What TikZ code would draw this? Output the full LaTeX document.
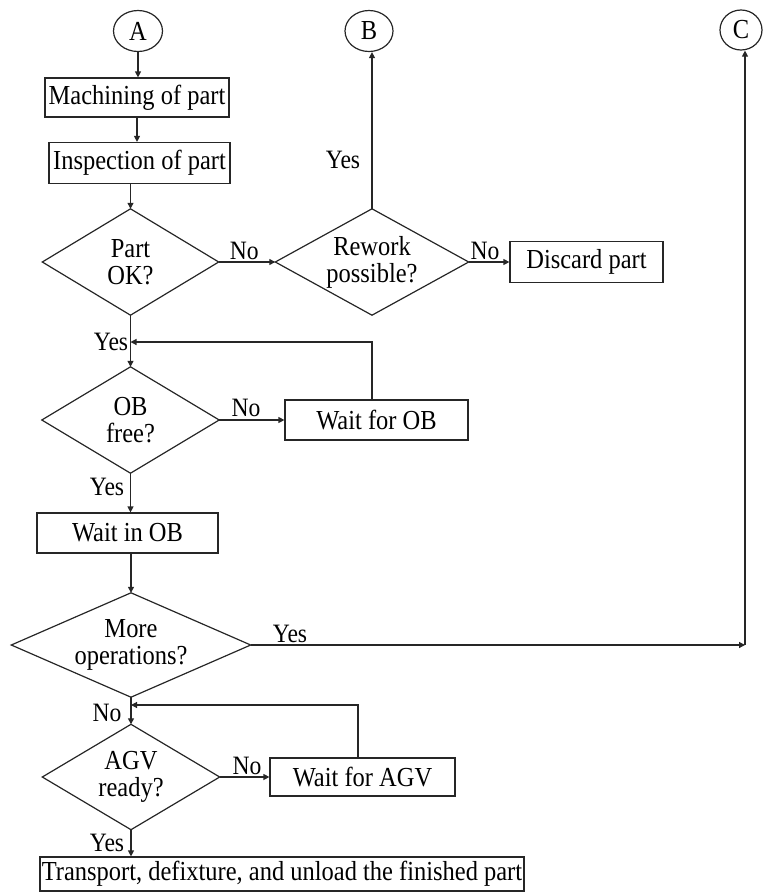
\documentclass[tikz,border=0pt]{standalone}
\usepackage{fontspec}
\setmainfont{Liberation Serif}[FakeStretch=0.89]
\usetikzlibrary{arrows.meta,shapes.geometric}

\begin{document}
\begin{tikzpicture}[x=1pt,y=-1pt,
  every node/.style={font=\fontsize{27.5}{27}\selectfont, text=black},
  line/.style={draw=black!85, line width=1.2pt},
  arr/.style={line, -{Triangle[length=6pt,width=6pt]}},
  procbox/.style={rectangle, draw=black!85, line width=1.2pt, inner sep=0pt, align=center},
  decision/.style={rectangle, draw=none, inner sep=0pt, align=center},
  connector/.style={ellipse, draw=black!85, line width=1.2pt, inner sep=0pt},
  lbl/.style={inner sep=0pt, font=\fontsize{26.5}{26}\selectfont}
]
\useasboundingbox (0,0) rectangle (766,892);

% off-page connectors
\node[connector, minimum width=49pt, minimum height=41pt] (A) at (138,31) {A};
\node[connector, minimum width=48pt, minimum height=41pt] (B) at (369,31) {B};
\node[connector, minimum width=42pt, minimum height=40pt] (C) at (741,30) {C};

% process boxes
\node[procbox, minimum width=184pt, minimum height=39pt] (mach) at (137,97.5) {Machining of part};
\node[procbox, minimum width=181pt, minimum height=41pt] (insp) at (139.5,163) {Inspection of part};
\node[procbox, minimum width=153pt, minimum height=41pt] (discard) at (586.5,262) {Discard part};
\node[procbox, minimum width=183pt, minimum height=40pt] (waitob) at (376.5,420) {Wait for OB};
\node[procbox, minimum width=181pt, minimum height=40pt] (waitin) at (127.5,533) {Wait in OB};
\node[procbox, minimum width=185pt, minimum height=38pt] (waitagv) at (362.5,777) {Wait for AGV};
\node[procbox, minimum width=484pt, minimum height=34pt] (final) at (282,874) {Transport, defixture, and unload the finished part};

% decisions: text node, outline drawn through its four side anchors
\node[decision, minimum width=176pt, minimum height=106pt] (partok) at (130.5,262) {Part\\OK?};
\node[decision, minimum width=193pt, minimum height=106pt] (rework) at (372,262) {Rework\\possible?};
\node[decision, minimum width=177pt, minimum height=106pt] (obfree) at (130.5,420) {OB\\free?};
\node[decision, minimum width=239pt, minimum height=104pt] (moreops) at (131,645) {More\\operations?};
\node[decision, minimum width=177pt, minimum height=105pt] (agv) at (131,777) {AGV\\ready?};
\foreach \d in {partok,rework,obfree,moreops,agv}
  \draw[line] (\d.north) -- (\d.east) -- (\d.south) -- (\d.west) -- cycle;

% junction points
\coordinate (j1) at (130.5,342);
\coordinate (j2) at (131,705);
\coordinate (corner) at (745,645);

% main flow
\draw[arr] (A.south) -- (A.south |- mach.north);
\draw[arr] (mach.south) -- (mach.south |- insp.north);
\draw[arr] (partok.north |- insp.south) -- (partok.north);
\draw[arr] (partok.east) -- node[lbl, above=2pt, pos=0.45] (no1) {No} (rework.west);
\draw[arr] (rework.east) -- node[lbl, above=2pt, pos=0.4] (no2) {No} (discard.west);
\draw[arr] (rework.north) -- (rework.north |- B.south);
\node[lbl] (yes1) at (343,160) {Yes};
\draw[arr] (partok.south) -- (obfree.north);
\node[lbl] (yes2) at (111,342) {Yes};
\draw[arr] ([xshift=-4.5pt]waitob.north) |- (j1);
\draw[arr] (obfree.east) -- (waitob.west);
\node[lbl] (no3) at (246,408) {No};
\draw[arr] (obfree.south) -- (obfree.south |- waitin.north);
\node[lbl] (yes3) at (107,487) {Yes};
\draw[arr] (moreops.north |- waitin.south) -- (moreops.north);
\draw[arr] (moreops.east) -- (corner);
\draw[arr] (corner) -- (corner |- C.south);
\node[lbl] (yes4) at (290,634) {Yes};
\draw[arr] (moreops.south) -- (agv.north);
\node[lbl] (no4) at (107,713) {No};
\draw[arr] ([xshift=-4.5pt]waitagv.north) |- (j2);
\draw[arr] (agv.east) -- (waitagv.west);
\node[lbl] (no5) at (247,766) {No};
\draw[arr] (agv.south) -- (agv.south |- final.north);
\node[lbl] (yes5) at (107,843) {Yes};
\end{tikzpicture}
\end{document}
